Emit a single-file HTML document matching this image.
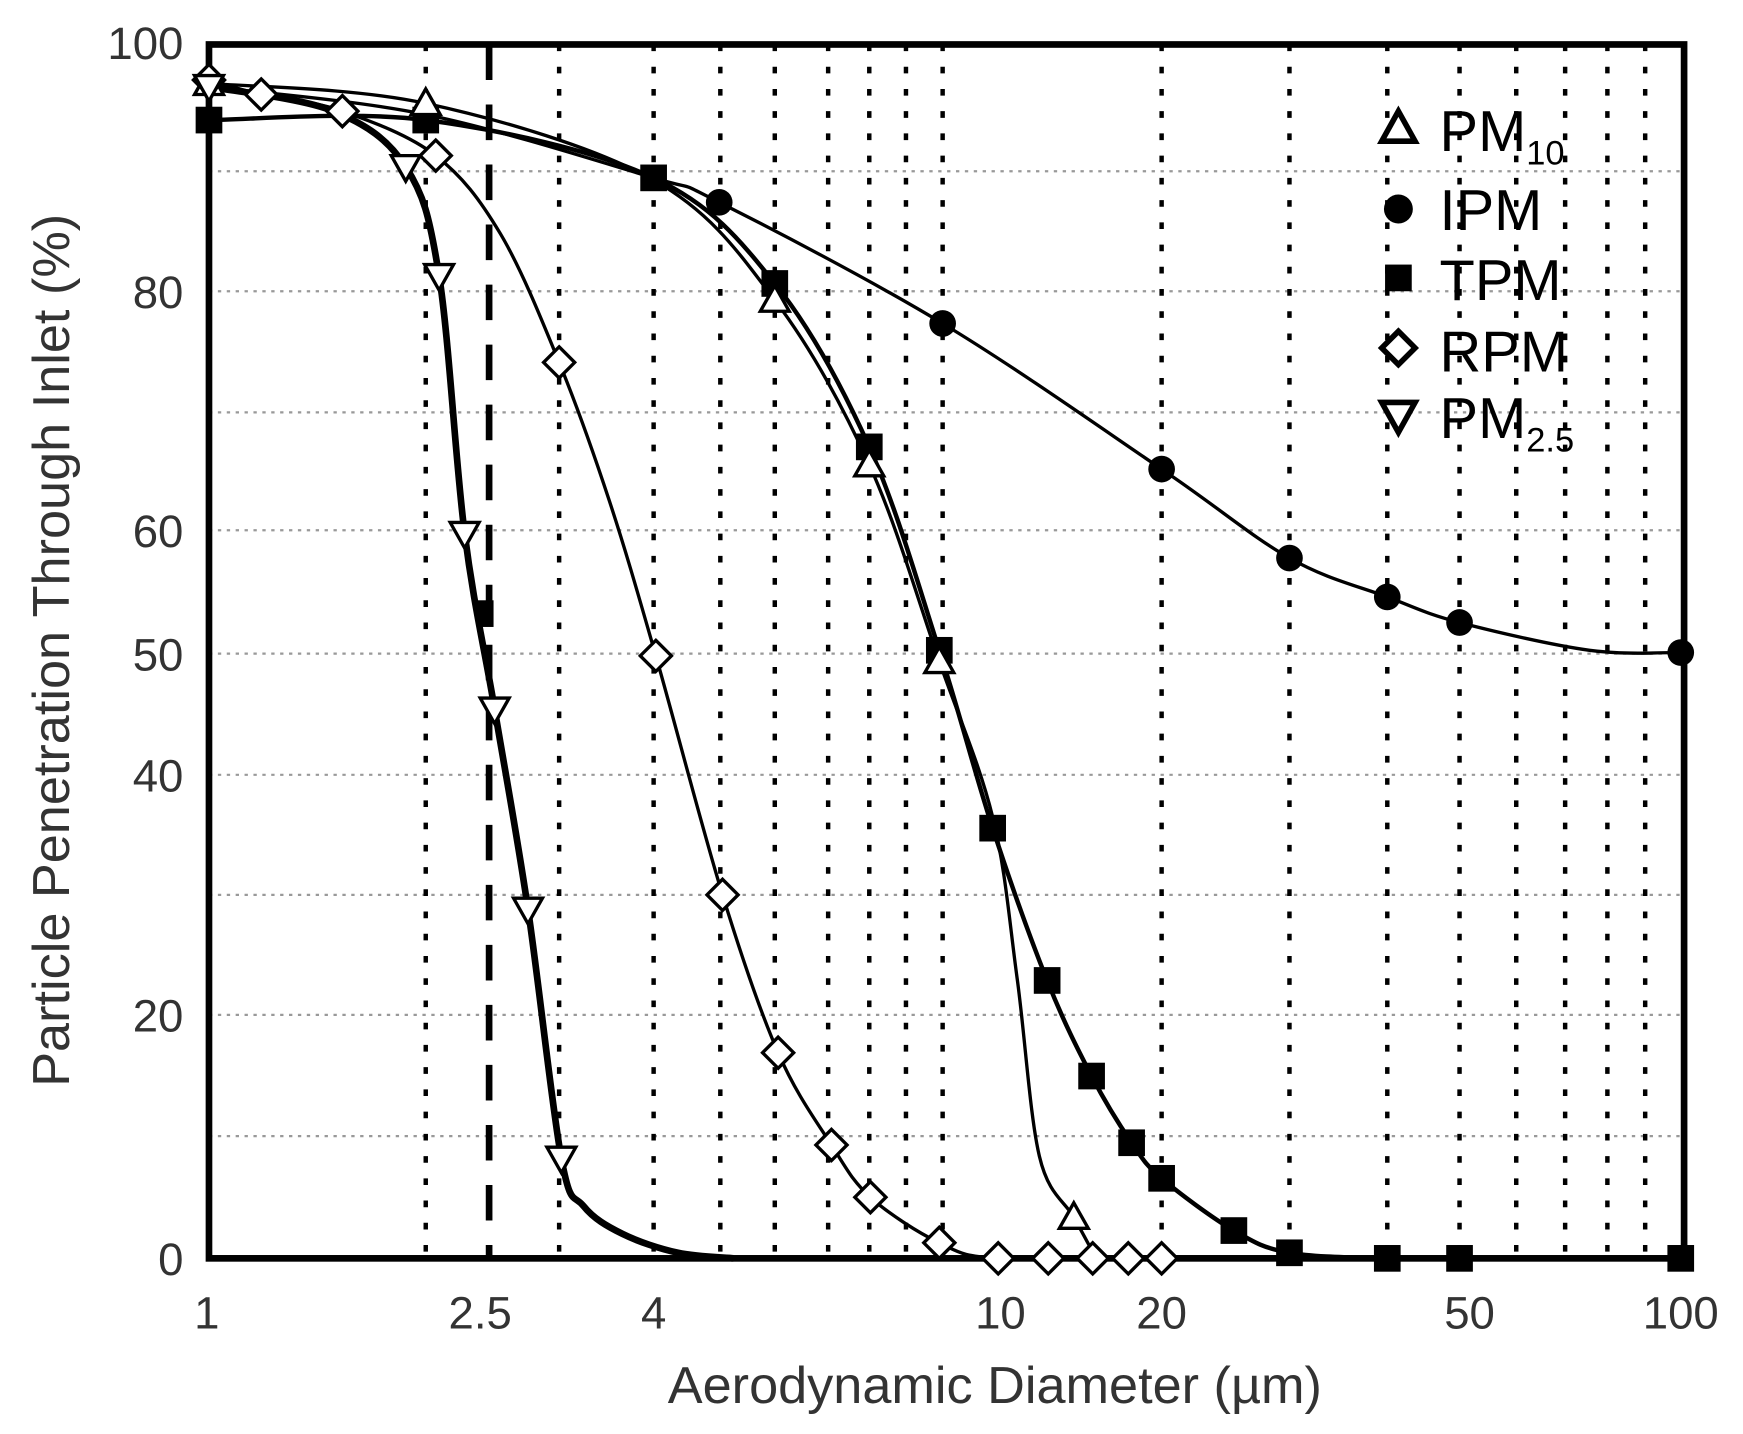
<!DOCTYPE html>
<html><head><meta charset="utf-8"><style>html,body{margin:0;padding:0;background:#fff}svg{display:block}</style></head>
<body>
<svg id="s" width="1743" height="1434" viewBox="0 0 1568 1290" xmlns="http://www.w3.org/2000/svg" font-family="Liberation Sans, Arial, sans-serif">
<rect width="1568" height="1290" fill="#fff"/>
<g stroke="#999" stroke-width="2" stroke-dasharray="3,5">
<line x1="188" x2="1515" y1="154" y2="154"/><line x1="188" x2="1515" y1="262" y2="262"/>
<line x1="188" x2="1515" y1="371" y2="371"/><line x1="188" x2="1515" y1="477" y2="477"/>
<line x1="188" x2="1515" y1="588" y2="588"/><line x1="188" x2="1515" y1="697" y2="697"/>
<line x1="188" x2="1515" y1="805" y2="805"/><line x1="188" x2="1515" y1="913" y2="913"/>
<line x1="188" x2="1515" y1="1022" y2="1022"/>
</g>
<g stroke="#000" stroke-width="4" stroke-dasharray="6,14">
<line x1="383" x2="383" y1="40" y2="1132"/><line x1="503" x2="503" y1="40" y2="1132"/>
<line x1="588" x2="588" y1="40" y2="1132"/><line x1="648" x2="648" y1="40" y2="1132"/>
<line x1="697" x2="697" y1="40" y2="1132"/><line x1="745" x2="745" y1="40" y2="1132"/>
<line x1="782" x2="782" y1="40" y2="1132"/><line x1="815" x2="815" y1="40" y2="1132"/>
<line x1="848" x2="848" y1="40" y2="1132"/><line x1="1045" x2="1045" y1="40" y2="1132"/>
<line x1="1160" x2="1160" y1="40" y2="1132"/><line x1="1248" x2="1248" y1="40" y2="1132"/>
<line x1="1313" x2="1313" y1="40" y2="1132"/><line x1="1364" x2="1364" y1="40" y2="1132"/>
<line x1="1408" x2="1408" y1="40" y2="1132"/><line x1="1446" x2="1446" y1="40" y2="1132"/>
<line x1="1480" x2="1480" y1="40" y2="1132"/>
</g>
<line x1="440" x2="440" y1="40" y2="1132" stroke="#000" stroke-width="6" stroke-dasharray="32,22"/>
<rect x="188" y="40" width="1327" height="1092" fill="none" stroke="#000" stroke-width="6"/>
<g id="lines" fill="none" stroke="#000" stroke-linejoin="round">
<polyline stroke-width="3" points="188,78 383,103 588,160 647,182 848,291 1045,422 1160,502 1248,537 1313,560 1430,585 1512,587"/>
<polyline stroke-width="4" points="188,108 383,108 588,160 697,255 782,402 845,585 893,745 942,882 982,968 1018,1028 1045,1060 1110,1107 1160,1127 1248,1132 1313,1132 1512,1132"/>
<polyline stroke-width="3" points="188,75 383,93 588,162 697,270 782,418 845,595 893,735 915,880 935,1040 966,1095 985,1130"/>
<polyline stroke-width="3" points="188,72 235,85 308,100 392,140 450,210 503,326 548,450 590,590 650,805 700,947 748,1030 783,1077 845,1118 898,1132 1045,1132"/>
<polyline stroke-width="6" points="188,78 300,100 365,150 395,248 418,480 445,638 475,818 505,1042 525,1085 560,1110 610,1127 660,1132"/>
</g>
<g fill="#000">
<circle cx="647" cy="182" r="12"/><circle cx="848" cy="291" r="12"/><circle cx="1045" cy="422" r="12"/>
<circle cx="1160" cy="502" r="12"/><circle cx="1248" cy="537" r="12"/><circle cx="1313" cy="560" r="12"/><circle cx="1512" cy="587" r="12"/>
<circle cx="383" cy="103" r="12"/>
<g transform="translate(-12,-12)">
<rect x="188" y="108" width="24" height="24"/><rect x="383" y="108" width="24" height="24"/><rect x="588" y="160" width="24" height="24"/>
<rect x="697" y="255" width="24" height="24"/><rect x="782" y="402" width="24" height="24"/><rect x="845" y="585" width="24" height="24"/>
<rect x="893" y="745" width="24" height="24"/><rect x="942" y="882" width="24" height="24"/><rect x="982" y="968" width="24" height="24"/>
<rect x="1018" y="1028" width="24" height="24"/><rect x="1045" y="1060" width="24" height="24"/><rect x="1110" y="1107" width="24" height="24"/>
<rect x="1160" y="1127" width="24" height="24"/><rect x="1248" y="1132" width="24" height="24"/><rect x="1313" y="1132" width="24" height="24"/>
<rect x="1512" y="1132" width="24" height="24"/><rect x="442" y="552" width="14" height="24"/>
</g>
</g>
<g fill="#fff" stroke="#000" stroke-width="3">
<path d="M188,62 l13,23 h-26z"/><path d="M383,80 l13,23 h-26z"/><path d="M697,257 l13,23 h-26z"/>
<path d="M782,405 l13,23 h-26z"/><path d="M845,582 l13,23 h-26z"/><path d="M966,1082 l13,23 h-26z"/>
<path d="M188,58 l14,14 -14,14 -14,-14z"/><path d="M235,71 l14,14 -14,14 -14,-14z"/><path d="M308,86 l14,14 -14,14 -14,-14z"/>
<path d="M392,126 l14,14 -14,14 -14,-14z"/><path d="M503,312 l14,14 -14,14 -14,-14z"/><path d="M590,576 l14,14 -14,14 -14,-14z"/>
<path d="M650,791 l14,14 -14,14 -14,-14z"/><path d="M700,933 l14,14 -14,14 -14,-14z"/><path d="M748,1016 l14,14 -14,14 -14,-14z"/>
<path d="M783,1063 l14,14 -14,14 -14,-14z"/><path d="M845,1104 l14,14 -14,14 -14,-14z"/><path d="M898,1118 l14,14 -14,14 -14,-14z"/>
<path d="M943,1118 l14,14 -14,14 -14,-14z"/><path d="M983,1118 l14,14 -14,14 -14,-14z"/><path d="M1015,1118 l14,14 -14,14 -14,-14z"/>
<path d="M1045,1118 l14,14 -14,14 -14,-14z"/>
<path d="M175,68 h26 l-13,23z"/><path d="M352,140 h26 l-13,23z"/><path d="M382,238 h26 l-13,23z"/>
<path d="M405,470 h26 l-13,23z"/><path d="M432,628 h26 l-13,23z"/><path d="M462,808 h26 l-13,23z"/><path d="M492,1032 h26 l-13,23z"/>
</g>
<g fill="#000" font-size="52">
<path d="M1258,100 l15,27 h-30z" fill="#fff" stroke="#000" stroke-width="5"/>
<text x="1295" y="136">PM<tspan font-size="31" dy="12">10</tspan></text>
<circle cx="1258" cy="188" r="13"/><text x="1295" y="207">IPM</text>
<rect x="1246" y="238" width="24" height="24"/><text x="1295" y="270">TPM</text>
<path d="M1258,298 l15,15 -15,15 -15,-15z" fill="#fff" stroke="#000" stroke-width="5"/><text x="1295" y="334">RPM</text>
<path d="M1243,362 h30 l-15,27z" fill="#fff" stroke="#000" stroke-width="5"/>
<text x="1295" y="394">PM<tspan font-size="31" dy="12">2.5</tspan></text>
</g>
<g fill="#333" font-size="41" text-anchor="end">
<text x="165" y="53">100</text><text x="165" y="277">80</text><text x="165" y="492">60</text>
<text x="165" y="603">50</text><text x="165" y="712">40</text><text x="165" y="928">20</text><text x="165" y="1147">0</text>
</g>
<g fill="#333" font-size="41" text-anchor="middle">
<text x="186" y="1195">1</text><text x="432" y="1195">2.5</text><text x="588" y="1195">4</text>
<text x="900" y="1195">10</text><text x="1045" y="1195">20</text><text x="1322" y="1195">50</text><text x="1512" y="1195">100</text>
</g>
<text x="895" y="1262" font-size="47" fill="#333" text-anchor="middle">Aerodynamic Diameter (µm)</text>
<text transform="translate(62,585) rotate(-90)" font-size="47" fill="#333" text-anchor="middle">Particle Penetration Through Inlet (%)</text>
</svg>
<script>
(function(){
var pls=document.querySelectorAll('#lines polyline');
for(var i=0;i<pls.length;i++){
var pl=pls[i];var pts=pl.getAttribute('points').trim().split(/\s+/).map(function(s){return s.split(',').map(Number);});
var d='M'+pts[0][0]+','+pts[0][1];
for(var k=0;k<pts.length-1;k++){
var p0=pts[k-1]||pts[k],p1=pts[k],p2=pts[k+1],p3=pts[k+2]||p2;
var c1x=p1[0]+(p2[0]-p0[0])/6,c1y=p1[1]+(p2[1]-p0[1])/6,c2x=p2[0]-(p3[0]-p1[0])/6,c2y=p2[1]-(p3[1]-p1[1])/6;
d+=' C'+c1x+','+c1y+' '+c2x+','+c2y+' '+p2[0]+','+p2[1];}
var p=document.createElementNS('http://www.w3.org/2000/svg','path');
p.setAttribute('d',d);p.setAttribute('stroke-width',pl.getAttribute('stroke-width'));
pl.parentNode.replaceChild(p,pl);}
})();
</script>
</body></html>
